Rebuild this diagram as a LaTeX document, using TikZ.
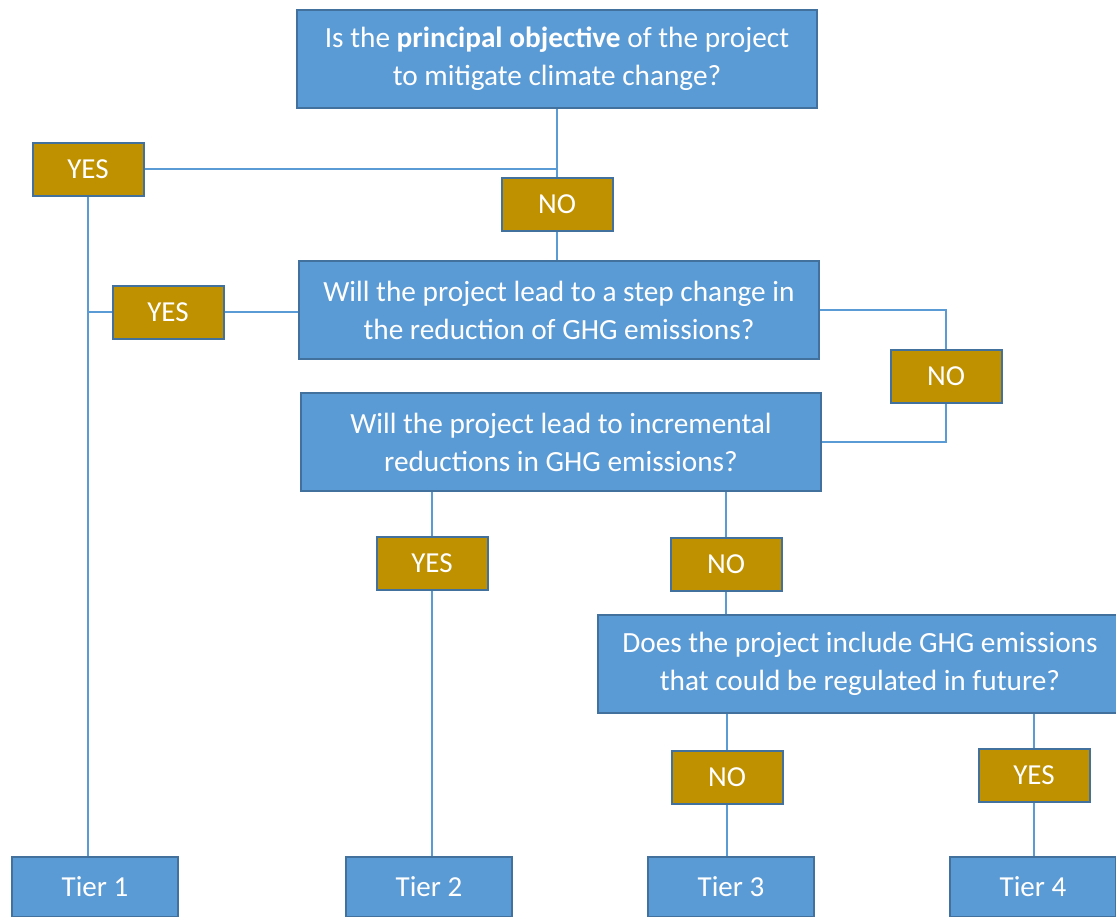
\documentclass[tikz,border=0pt]{standalone}
\usepackage{fontspec}
\setmainfont{Carlito}
\usepackage{xcolor}
\usepackage{tikz}
\usetikzlibrary{positioning,calc}

\definecolor{boxblue}{HTML}{5B9BD5}
\definecolor{edgeblue}{HTML}{41719C}
\definecolor{answergold}{HTML}{BF9000}

\begin{document}
\begin{tikzpicture}[x=1pt,y=-1pt,
    question/.style={draw=edgeblue,line width=2pt,fill=boxblue,text=white,inner sep=0pt,
      minimum width=520pt,minimum height=98pt,align=center,font=\fontsize{29.3}{38}\selectfont},
    answer/.style={draw=edgeblue,line width=2pt,fill=answergold,text=white,inner sep=0pt,
      minimum width=111pt,minimum height=53pt,font=\fontsize{29}{32}\selectfont},
    tier/.style={draw=edgeblue,line width=2pt,fill=boxblue,text=white,inner sep=0pt,
      minimum width=166pt,minimum height=60pt,font=\fontsize{29}{32}\selectfont},
    link/.style={draw=boxblue,line width=1.3pt}]
    \useasboundingbox (0,0) rectangle (1116,916);

    \node[question] (q1) at (557,59) {Is the \textbf{principal objective} of the project\\to mitigate climate change?};
    \node[answer] (yes1) at (88,169) {YES};
    \node[answer] (no1) at (557,204) {NO};
    \node[question] (q2) at (559,310) {Will the project lead to a step change in\\the reduction of GHG emissions?};
    \node[answer] (yes2) at (168,312) {YES};
    \node[answer] (no2) at (946,376) {NO};
    \node[question] (q3) at (561,442) {Will the project lead to incremental\\reductions in GHG emissions?};
    \node[answer] (yes3) at (432,563) {YES};
    \node[answer] (no3) at (726,564) {NO};
    \node[question,minimum width=524pt] (q4) at (860,664) {Does the project include GHG emissions\\that could be regulated in future?};
    \node[answer] (no4) at (727,777) {NO};
    \node[answer] (yes4) at (1034,775) {YES};

    \node[tier] (tier1) at (95,887) {Tier 1};
    \node[tier] (tier2) at (429,887) {Tier 2};
    \node[tier] (tier3) at (731,887) {Tier 3};
    \node[tier] (tier4) at (1033,887) {Tier 4};

    % first question
    \draw[link] (q1.south) -- (no1.north);
    \draw[link] (q1.south |- yes1.east) -- (yes1.east);
    \draw[link] (yes1.south) -- (yes1.south |- tier1.north);
    % second question
    \draw[link] (no1.south) -- (no1.south |- q2.north);
    \draw[link] (yes2.east -| q2.west) -- (yes2.east);
    \draw[link] (yes2.west) -- (yes2.west -| yes1.south);
    \draw[link] (q2.east) -| (no2.north);
    \draw[link] (no2.south) |- (q3.east);
    % third question
    \draw[link] (yes3.north |- q3.south) -- (yes3.north);
    \draw[link] (yes3.south) -- (yes3.south |- tier2.north);
    \draw[link] (no3.north |- q3.south) -- (no3.north);
    \draw[link] (no3.south) -- (no3.south |- q4.north);
    % fourth question
    \draw[link] (no4.north |- q4.south) -- (no4.north);
    \draw[link] (no4.south) -- (no4.south |- tier3.north);
    \draw[link] (yes4.north |- q4.south) -- (yes4.north);
    \draw[link] (yes4.south) -- (yes4.south |- tier4.north);
\end{tikzpicture}
\end{document}
